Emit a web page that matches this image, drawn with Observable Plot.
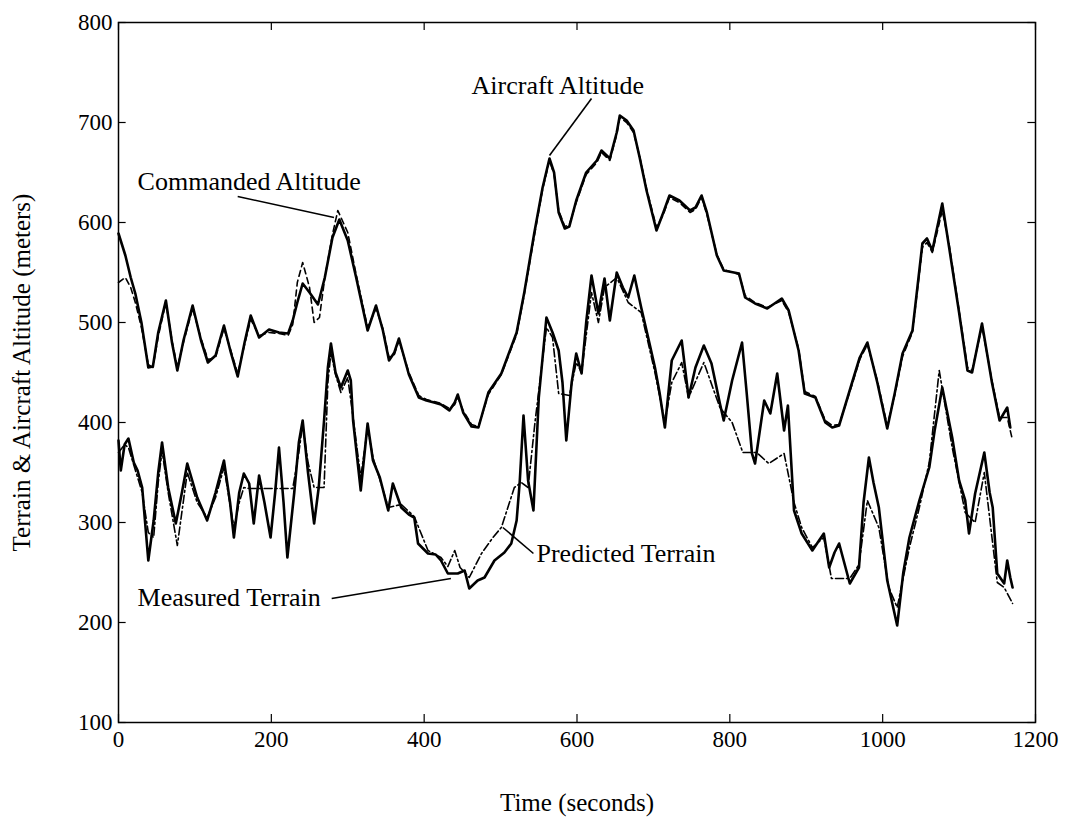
<!DOCTYPE html>
<html>
<head>
<meta charset="utf-8">
<script src="https://cdn.jsdelivr.net/npm/d3@7"></script>
<script src="https://cdn.jsdelivr.net/npm/@observablehq/plot@0.6"></script>
<style>
  body { margin: 0; background: #fff; }
  #chart svg { display: block; }
</style>
</head>
<body>
<div id="chart"></div>
<script>
// ---- Tick labels ----
const xTicks = [0, 200, 400, 600, 800, 1000, 1200];
const yTicks = [100, 200, 300, 400, 500, 600, 700, 800];

// ---- Aircraft altitude (solid, upper) ----
const aircraftTime = [0,9,16,22,30,39,45,52,62,70,77,85,97,108,117,127,138,147,156,165,173,184,197,210,222,228,234,241,250,261,270,280,289,300,311,326,337,346,354,361,367,380,393,403,413,422,433,440,444,451,462,471,484,501,521,531,544,555,564,570,576,584,590,599,612,626,632,643,652,656,665,674,682,691,704,713,721,734,748,755,763,770,783,792,812,820,833,849,868,877,890,898,912,925,934,943,960,970,980,993,1006,1016,1026,1039,1052,1058,1065,1078,1087,1100,1111,1117,1130,1143,1153,1163,1167];
const aircraftAlt  = [589,567,545,529,500,455,456,490,522,480,452,482,517,482,460,467,497,470,446,480,507,485,493,490,489,502,520,539,530,518,545,585,603,582,545,492,517,492,462,470,484,448,425,422,420,418,412,420,428,410,396,395,430,449,490,530,589,635,664,650,610,594,596,622,650,662,672,664,690,707,702,692,665,632,592,610,627,622,612,615,627,610,567,552,549,525,519,514,524,512,472,429,425,400,395,397,440,465,480,440,394,430,469,492,579,584,572,619,575,510,452,450,499,440,402,415,395];

// ---- Commanded altitude (dashed, upper) ----
const commandTime = [0,9,16,22,30,39,45,52,62,70,77,85,97,108,117,127,138,147,156,165,173,184,197,210,222,228,234,241,250,256,263,270,280,287,300,311,326,337,346,354,361,367,380,393,403,413,422,433,440,444,451,462,471,484,501,521,531,544,555,564,570,576,584,590,599,612,626,632,643,652,656,665,674,682,691,704,713,721,734,748,755,763,770,783,792,812,820,833,849,868,877,890,898,912,925,934,943,960,970,980,993,1006,1016,1026,1039,1052,1058,1065,1078,1087,1100,1111,1117,1130,1143,1153,1163,1170];
const commandAlt  = [540,545,535,520,495,458,455,486,520,482,455,480,514,484,463,465,494,472,449,478,503,487,490,489,487,498,540,560,535,500,505,545,588,612,590,548,495,514,494,465,468,482,450,427,423,421,419,414,418,425,412,398,396,428,448,488,528,586,633,662,648,612,596,598,620,648,660,670,662,688,705,700,690,666,634,595,608,625,620,610,613,625,608,568,553,548,527,520,515,522,510,474,431,426,402,397,398,438,463,478,442,397,428,466,490,575,580,570,612,578,512,455,452,496,442,405,405,382];

// ---- Measured terrain (solid, lower) ----
const measuredTime = [0,3,8,13,20,25,31,39,46,52,57,65,75,83,90,103,116,127,138,146,151,158,164,171,177,184,191,199,205,210,216,221,230,236,241,248,256,262,269,274,278,284,291,300,304,307,317,326,333,342,353,359,370,380,387,392,405,415,422,431,444,453,459,470,479,492,505,514,521,525,530,536,543,550,560,568,576,581,586,593,599,606,612,619,628,636,643,652,660,667,675,684,694,702,708,715,724,737,746,755,766,776,787,792,803,816,822,829,833,845,853,862,871,876,884,894,908,915,923,930,937,943,957,969,975,982,988,995,1006,1019,1027,1035,1048,1061,1068,1078,1091,1100,1108,1113,1121,1133,1140,1144,1150,1159,1163,1167,1170];
const measuredAlt  = [382,352,378,384,360,352,335,262,302,350,380,335,299,330,359,325,302,330,362,320,285,330,349,339,299,347,320,285,330,375,320,265,330,380,402,350,299,335,402,455,479,450,435,452,442,402,332,399,362,345,312,339,315,308,305,279,269,268,262,249,249,252,234,242,245,262,270,279,302,340,407,342,312,425,505,490,472,440,382,440,469,449,500,547,509,544,502,550,535,525,547,515,482,455,430,395,462,482,425,455,477,459,419,402,442,480,430,369,359,422,409,449,392,417,312,289,272,280,289,255,270,279,239,255,320,365,340,315,242,197,250,285,322,355,392,435,385,342,322,289,329,370,330,315,249,239,262,245,235];

// ---- Predicted terrain (dash-dot, lower) ----
const predictedTime = [0,8,13,25,31,39,46,52,57,65,77,90,103,116,127,138,151,158,164,171,177,228,236,241,248,256,269,274,278,284,291,300,307,317,326,333,342,353,370,387,405,422,431,440,447,459,475,490,501,518,527,536,545,560,568,576,590,599,606,619,628,636,652,667,684,702,715,724,737,746,766,787,803,817,835,851,871,884,894,908,923,933,957,969,980,995,1008,1019,1035,1048,1061,1074,1091,1108,1121,1133,1150,1159,1170];
const predictedAlt  = [370,378,375,345,330,290,285,340,372,330,277,350,320,305,325,355,295,320,335,334,334,334,370,398,360,335,335,440,470,448,430,445,405,345,395,365,343,315,318,306,272,265,256,272,255,245,269,285,295,335,340,335,400,495,485,429,427,460,450,530,500,535,545,520,510,450,400,440,460,425,460,415,400,370,370,359,369,320,295,275,285,244,244,258,322,295,235,215,275,315,360,452,375,310,300,350,240,235,219];

// ---- Annotations ----
const labelText   = ["Aircraft Altitude", "Commanded Altitude", "Predicted Terrain", "Measured Terrain"];
const labelTime   = [462, 25, 547, 25];
const labelAlt    = [737, 641, 269, 225];
const pointerFromTime = [619, 156, 543, 279];
const pointerFromAlt  = [724, 626, 269, 224];
const pointerToTime   = [564, 282, 503, 435];
const pointerToAlt    = [667, 605, 295, 244];

const toRows = (t, v) => t.map((d, i) => ({t: d, v: v[i]}));
const aircraft = toRows(aircraftTime, aircraftAlt);
const command = toRows(commandTime, commandAlt);
const measured = toRows(measuredTime, measuredAlt);
const predicted = toRows(predictedTime, predictedAlt);
const labels = labelText.map((s, i) => ({s, t: labelTime[i], v: labelAlt[i]}));
const pointers = pointerFromTime.map((d, i) => ({x1: d, y1: pointerFromAlt[i], x2: pointerToTime[i], y2: pointerToAlt[i]}));

const xDom = [0, 1200], yDom = [100, 800];
const tickLenY = 8;   // in meters
const tickLenX = 10;  // in seconds

const chart = Plot.plot({
  width: 1068,
  height: 823,
  marginLeft: 118,
  marginRight: 33,
  marginTop: 22,
  marginBottom: 101,
  style: {fontFamily: "'Liberation Serif', 'Times New Roman', serif", fontSize: "23px", color: "#000", background: "#fff"},
  x: {domain: xDom, ticks: xTicks, tickFormat: d3.format("d"), tickSize: 0, tickPadding: 8, label: "Time (seconds)", labelAnchor: "center", labelOffset: 88, labelArrow: "none"},
  y: {domain: yDom, ticks: yTicks, tickFormat: d3.format("d"), tickSize: 0, tickPadding: 6, label: "Terrain & Aircraft Altitude (meters)", labelAnchor: "center", labelOffset: 106, labelArrow: "none"},
  marks: [
    Plot.frame({stroke: "#000", strokeWidth: 1.5}),
    // inward ticks, bottom and top
    Plot.ruleX(xTicks, {x: d => d, y1: yDom[0], y2: yDom[0] + tickLenY, stroke: "#000", strokeWidth: 1.2}),
    Plot.ruleX(xTicks, {x: d => d, y1: yDom[1] - tickLenY, y2: yDom[1], stroke: "#000", strokeWidth: 1.2}),
    // inward ticks, left and right
    Plot.ruleY(yTicks, {y: d => d, x1: xDom[0], x2: xDom[0] + tickLenX, stroke: "#000", strokeWidth: 1.2}),
    Plot.ruleY(yTicks, {y: d => d, x1: xDom[1] - tickLenX, x2: xDom[1], stroke: "#000", strokeWidth: 1.2}),
    Plot.line(command, {x: "t", y: "v", stroke: "#000", strokeWidth: 1.6, strokeDasharray: "6,4"}),
    Plot.line(predicted, {x: "t", y: "v", stroke: "#000", strokeWidth: 1.6, strokeDasharray: "8,3,2,3"}),
    Plot.line(aircraft, {x: "t", y: "v", stroke: "#000", strokeWidth: 2.6, strokeLinejoin: "round"}),
    Plot.line(measured, {x: "t", y: "v", stroke: "#000", strokeWidth: 2.6, strokeLinejoin: "round"}),
    Plot.link(pointers, {x1: "x1", y1: "y1", x2: "x2", y2: "y2", stroke: "#000", strokeWidth: 1.6}),
    Plot.text(labels, {x: "t", y: "v", text: "s", textAnchor: "start", fontSize: 26, fill: "#000"})
  ]
});
chart.querySelectorAll("[aria-label='y-axis label'] text, [aria-label='x-axis label'] text").forEach(t => t.setAttribute("font-size", "25"));
document.getElementById("chart").appendChild(chart);
</script>
</body>
</html>
